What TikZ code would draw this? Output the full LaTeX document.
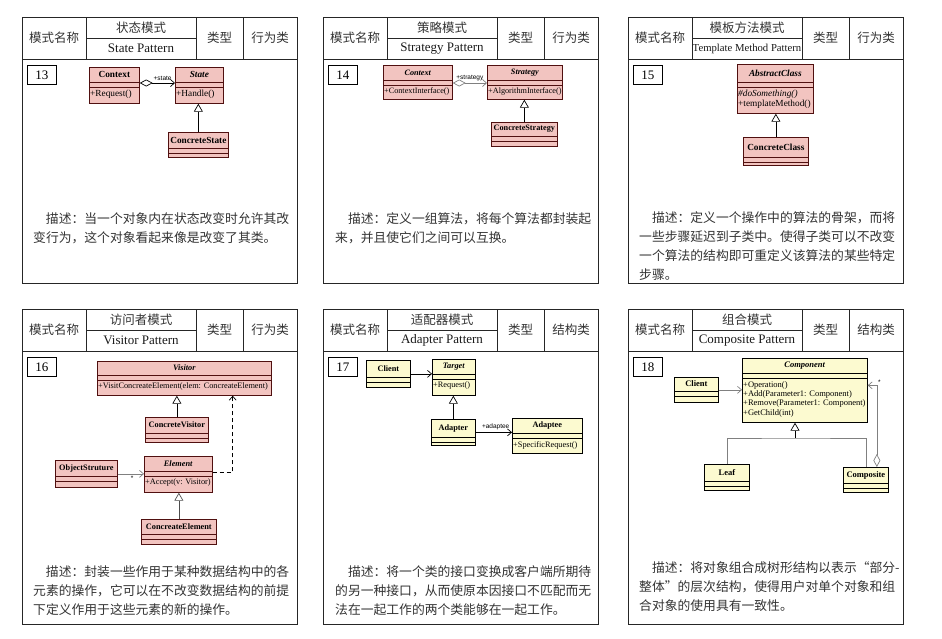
\documentclass[tikz,border=0pt]{standalone}
\usepackage{fontspec}
\setmainfont{Liberation Serif}
\setsansfont{Liberation Sans}
\newfontfamily\cjk{Noto Sans CJK SC}
\usetikzlibrary{arrows.meta}

\definecolor{clspink}{RGB}{242,196,192}
\definecolor{clspinkline}{RGB}{80,16,16}
\definecolor{clsyellow}{RGB}{252,250,208}

\tikzset{
  frame/.style={draw=black!85, line width=0.9pt},
  hdcn/.style={font=\cjk\fontsize{12.5}{13}\selectfont, text=black!80, inner sep=0pt},
  hden/.style={font=\fontsize{13}{14}\selectfont, text=black!90, inner sep=0pt},
  numbox/.style={draw=black, line width=0.8pt, minimum width=29pt, minimum height=19pt,
    anchor=north west, inner sep=0pt, font=\fontsize{13}{14}\selectfont},
  desc/.style={font=\cjk\fontsize{12.8}{19}\selectfont, text=black!80, align=left,
    anchor=base west, inner sep=0pt},
  pinkcls/.style={draw=clspinkline, fill=clspink, line width=0.7pt},
  yellowcls/.style={draw=black, fill=clsyellow, line width=0.7pt},
  clstitle/.style={font=\umlfont\bfseries, inner sep=0pt},
  clsbody/.style={font=\umlfont, align=left, inner xsep=1pt, inner ysep=3pt, anchor=north west},
  role/.style={font=\sffamily\fontsize{6.5}{7}\selectfont, text=black, inner sep=1pt},
  inherit/.style={line width=0.7pt, -{Triangle[open, length=8pt, width=9pt]}},
  assoc/.style={line width=0.7pt, -{Straight Barb[length=4pt, width=7pt]}},
  aggr/.style={line width=0.7pt, {Diamond[open, length=13pt, width=7pt]}-{Straight Barb[length=4pt, width=7pt]}},
  depend/.style={line width=0.7pt, dash pattern=on 4pt off 3pt, -{Straight Barb[length=4pt, width=7pt]}}
}

% one card: key, x, y, height, chinese name, english name, kind, number
\newcommand{\panel}[8]{%
  \draw[frame] (#2,#3) rectangle ++(275,#4);
  \draw[frame] (#2,#3+42) -- ++(275,0)
    (#2+64,#3) -- ++(0,42) (#2+174,#3) -- ++(0,42) (#2+221,#3) -- ++(0,42)
    (#2+64,#3+21) -- (#2+174,#3+21);
  \node[hdcn] (#1-lbl) at (#2+32,#3+21) {模式名称};
  \node[hdcn] (#1-cn) at (#2+119,#3+10.5) {#5};
  \node[hden] (#1-en) at (#2+119,#3+31.5) {#6};
  \node[hdcn] (#1-tl) at (#2+197.5,#3+21) {类型};
  \node[hdcn] (#1-kind) at (#2+248,#3+21) {#7};
  \node[numbox] (#1-no) at (#2+5,#3+48) {#8};
}

% one class: name, north west corner, width, height, title height, style, title, operations
\newcommand{\umlclass}[8]{%
  \node[#6, minimum width=#3, minimum height=#4, anchor=north west, inner sep=0pt] (#1) at (#2) {};
  \path[#6, fill=none] ([yshift=-#5]#1.north west) -- ([yshift=-#5]#1.north east)
    ([yshift=-#5-5]#1.north west) -- ([yshift=-#5-5]#1.north east);
  \node[clstitle] (#1-t) at ([yshift=-#5/2]#1.north) {#7};
  \node[clsbody] (#1-m) at ([yshift=-#5-5]#1.north west) {#8};
}

\begin{document}
\begin{tikzpicture}[x=1pt,y=-1pt]
\useasboundingbox (0,0) rectangle (942,638);

\panel{p13}{22}{17}{266}{状态模式}{State Pattern}{行为类}{13}
\panel{p14}{323}{17}{266}{策略模式}{Strategy Pattern}{行为类}{14}
\panel{p15}{628}{17}{266}{模板方法模式}{\fontsize{10.7}{12}\selectfont Template Method Pattern}{行为类}{15}
\panel{p16}{22}{309}{315}{访问者模式}{Visitor Pattern}{行为类}{16}
\panel{p17}{323}{309}{315}{适配器模式}{Adapter Pattern}{结构类}{17}
\panel{p18}{628}{309}{315}{组合模式}{Composite Pattern}{结构类}{18}

% state
\def\umlfont{\fontsize{9.3}{10}\selectfont}
\umlclass{context}{89,67}{50}{36}{15}{pinkcls}{Context}{+Request()}
\umlclass{state}{175,67}{48}{36}{15}{pinkcls}{\textit{State}}{+Handle()}
\umlclass{concretestate}{168,132}{60}{25}{16}{pinkcls}{ConcreteState}{}
\draw[aggr] ([yshift=-16]context.north east) -- ([yshift=-16]state.north west)
  node[role, above=1pt, pos=0.65] (statelbl) {+state};
\draw[inherit] (concretestate.north) -- (concretestate.north |- state.south);
% desc nodes sit on the baseline of their last line
\node[desc] (p13-desc) at (33,242) {\hspace*{1em}描述：当一个对象内在状态改变时允许其改\\变行为，这个对象看起来像是改变了其类。};

% strategy
\def\umlfont{\fontsize{8.2}{9}\selectfont}
\umlclass{strcontext}{383,65}{69}{34}{15}{pinkcls}{\textit{Context}}{+ContextInterface()}
\umlclass{strategy}{487,65}{75}{34}{15}{pinkcls}{\textit{Strategy}}{+AlgorithmInterface()}
\umlclass{concretestrategy}{491,122}{66}{24}{14}{pinkcls}{ConcreteStrategy}{}
\draw[aggr, gray] ([yshift=-18]strcontext.north east) -- ([yshift=-18]strategy.north west)
  node[role, above=1pt, pos=0.5] (strategylbl) {+strategy};
\draw[inherit] (concretestrategy.north) -- (concretestrategy.north |- strategy.south);
\node[desc] (p14-desc) at (335,242) {\hspace*{1em}描述：定义一组算法，将每个算法都封装起\\来，并且使它们之间可以互换。};

% template method
\def\umlfont{\fontsize{9.3}{9.8}\selectfont}
\umlclass{abstractclass}{737,64}{76}{49}{18}{pinkcls}{\textit{AbstractClass}}{\textit{\#doSomething()}\\+templateMethod()}
\umlclass{concreteclass}{743,137}{65}{28}{20}{pinkcls}{ConcreteClass}{}
\draw[inherit] (concreteclass.north) -- (concreteclass.north |- abstractclass.south);
\node[desc] (p15-desc) at (639,279) {\hspace*{1em}描述：定义一个操作中的算法的骨架，而将\\一些步骤延迟到子类中。使得子类可以不改变\\一个算法的结构即可重定义该算法的某些特定\\步骤。};

% visitor
\def\umlfont{\fontsize{8.3}{9}\selectfont}
\umlclass{visitor}{97,361}{174}{34}{14}{pinkcls}{\textit{Visitor}}{+VisitConcreateElement(elem: ConcreateElement)}
\umlclass{concretevisitor}{145,417}{63}{25}{16}{pinkcls}{ConcreteVisitor}{}
\umlclass{objectstruture}{55,460}{62}{27}{16}{pinkcls}{ObjectStruture}{}
\umlclass{element}{144,456}{68}{36}{15}{pinkcls}{\textit{Element}}{+Accept(v: Visitor)}
\umlclass{concreateelement}{141,519}{75}{25}{15}{pinkcls}{ConcreateElement}{}
\draw[inherit] (concretevisitor.north) -- (concretevisitor.north |- visitor.south);
\draw[inherit, gray!60!black] (concreateelement.north) -- (concreateelement.north |- element.south);
\draw[assoc, gray] (objectstruture.east) -- (objectstruture.east -| element.west)
  node[role, below=1pt, pos=0.55] (manylbl) {*};
\draw[depend] ([yshift=2]element.east) -| ([xshift=-39]visitor.south east);
\node[desc] (p16-desc) at (33,614) {\hspace*{1em}描述：封装一些作用于某种数据结构中的各\\元素的操作，它可以在不改变数据结构的前提\\下定义作用于这些元素的新的操作。};

% adapter
\umlclass{client}{366,360}{44}{27}{17}{yellowcls}{Client}{}
\umlclass{target}{432,359}{43}{36}{15}{yellowcls}{\textit{Target}}{+Request()}
\umlclass{adapter}{431,419}{44}{26}{18}{yellowcls}{Adapter}{}
\umlclass{adaptee}{512,418}{70}{35}{15}{yellowcls}{Adaptee}{+SpecificRequest()}
\draw[assoc] (client.east) -- (client.east -| target.west);
\draw[inherit] (adapter.north) -- (adapter.north |- target.south);
\draw[assoc] (adapter.east) -- (adapter.east -| adaptee.west)
  node[role, above=1pt, pos=0.55] (adapteelbl) {+adaptee};
\node[desc] (p17-desc) at (335,614) {\hspace*{1em}描述：将一个类的接口变换成客户端所期待\\的另一种接口，从而使原本因接口不匹配而无\\法在一起工作的两个类能够在一起工作。};

% composite
\def\umlfont{\fontsize{8.5}{9.4}\selectfont}
\umlclass{component}{742,358}{125}{64}{15}{yellowcls}{\textit{Component}}{+Operation()\\+Add(Parameter1: Component)\\+Remove(Parameter1: Component)\\+GetChild(int)}
\umlclass{compclient}{674,377}{44}{25}{14}{yellowcls}{Client}{}
\umlclass{leaf}{704,464}{45}{26}{17}{yellowcls}{Leaf}{}
\umlclass{composite}{843,467}{45}{25}{16}{yellowcls}{Composite}{}
\coordinate (tree) at (795,438);
\draw[assoc, gray] (compclient.east) -- (compclient.east -| component.west);
\draw[gray, line width=0.7pt] (leaf.north) |- (tree) -| (composite.north);
\draw[inherit] (tree) -- (tree |- component.south);
\draw[aggr, gray] ([xshift=11]composite.north) |- ([yshift=5]component.east)
  node[role, pos=0.5, above right=0pt] (childlbl) {*};
\node[desc] (p18-desc) at (639,610) {\hspace*{1em}描述：将对象组合成树形结构以表示“部分-\\整体”的层次结构，使得用户对单个对象和组\\合对象的使用具有一致性。};
\end{tikzpicture}
\end{document}
